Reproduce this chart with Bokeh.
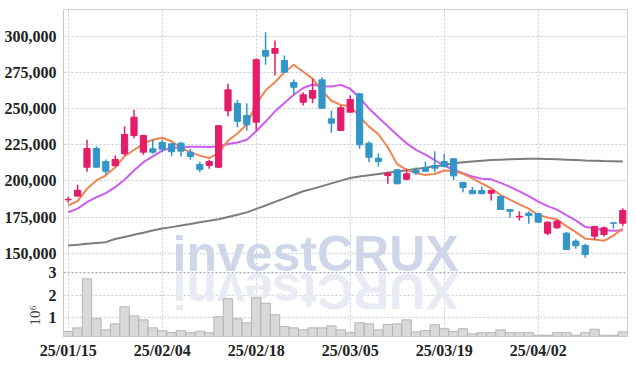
import math
from bokeh.plotting import figure
from bokeh.models import Range1d, FixedTicker, Label, Span, NumeralTickFormatter, ColumnDataSource, AllLabels
from bokeh.embed import file_html
from bokeh.resources import INLINE

# ---------------- data ----------------
dates = ["25/01/15", "25/01/16", "25/01/17", "25/01/20", "25/01/21", "25/01/22", "25/01/23", "25/01/24", "25/01/31",
         "25/02/03", "25/02/04", "25/02/05", "25/02/06", "25/02/07", "25/02/10", "25/02/11", "25/02/12", "25/02/13",
         "25/02/14", "25/02/17", "25/02/18", "25/02/19", "25/02/20", "25/02/21", "25/02/24", "25/02/25", "25/02/26",
         "25/02/27", "25/02/28", "25/03/04", "25/03/05", "25/03/06", "25/03/07", "25/03/10", "25/03/11", "25/03/12",
         "25/03/13", "25/03/14", "25/03/17", "25/03/18", "25/03/19", "25/03/20", "25/03/21", "25/03/24", "25/03/25",
         "25/03/26", "25/03/27", "25/03/28", "25/03/31", "25/04/01", "25/04/02", "25/04/03", "25/04/04", "25/04/07",
         "25/04/08", "25/04/09", "25/04/10", "25/04/11", "25/04/14", "25/04/15"]

opens = [186900, 189500, 209500, 222400, 213400, 210500, 218800, 231400, 219900, 222200,
         226600, 225700, 226100, 219900, 211400, 210700, 209500, 248500, 253600, 245300,
         240700, 290300, 288400, 283400, 268100, 254500, 257300, 270000, 243000, 234900,
         247600, 260300, 226100, 215700, 203700, 207700, 201200, 207200, 209100, 210700,
         213400, 215300, 198900, 193400, 193400, 191500, 189200, 180200, 175000, 177600,
         177300, 163800, 167500, 163800, 158300, 155300, 161700, 162900, 171000, 170700]
highs = [189000, 197300, 228500, 224000, 214800, 217600, 237700, 249200, 232000, 228500,
         228700, 226500, 227100, 222200, 213200, 214600, 238600, 267200, 256200, 253800,
         285000, 303000, 297200, 286800, 270200, 261400, 270700, 271800, 248800, 252200,
         259100, 261000, 227300, 219200, 206500, 208200, 208400, 209500, 213400, 220600,
         218800, 215800, 199500, 195700, 196100, 194000, 189700, 180600, 179000, 179000,
         178000, 172100, 173100, 164700, 159600, 156400, 169000, 168400, 171200, 181100]
lows = [185000, 189000, 206300, 209300, 204400, 210000, 217600, 229600, 218100, 218800,
        219900, 217100, 216900, 214600, 206000, 208400, 208800, 244800, 237200, 234900,
        234900, 280400, 273000, 275000, 259800, 252200, 253800, 250000, 233300, 234500,
        247200, 222200, 213000, 210000, 198000, 197600, 200300, 204200, 206400, 206000,
        209700, 200700, 192200, 191000, 191000, 186400, 180000, 174400, 172600, 170300,
        171000, 162400, 166900, 152300, 153000, 146800, 159200, 161500, 166800, 168600]
closes = [187300, 193500, 222400, 209500, 206700, 214800, 232100, 244100, 231400, 219900,
          222000, 220200, 220600, 216900, 207900, 213400, 238200, 263100, 241300, 238900,
          283900, 286400, 291700, 275300, 264900, 259600, 262600, 250300, 240000, 250600,
          256400, 225000, 216400, 213400, 205300, 198000, 204900, 205600, 206700, 208800,
          210000, 203500, 195400, 191100, 191100, 193400, 180200, 179000, 175500, 176000,
          171400, 171400, 172100, 152500, 155100, 149000, 168400, 167500, 170600, 179500]
volumes = [360000, 520000, 2730000, 930000, 430000, 700000, 1470000, 1060000, 880000, 520000,
           390000, 310000, 390000, 300000, 370000, 300000, 1020000, 1830000, 930000, 750000,
           1870000, 1630000, 1110000, 580000, 520000, 430000, 520000, 520000, 610000, 430000,
           300000, 750000, 700000, 430000, 670000, 700000, 880000, 340000, 400000, 660000,
           480000, 360000, 480000, 250000, 300000, 300000, 430000, 300000, 300000, 300000,
           190000, 190000, 300000, 300000, 190000, 300000, 460000, 190000, 190000, 340000]
ma5 = [183000, 186000, 194500, 200300, 203900, 209400, 217100, 221400, 225800, 228500,
       229900, 227500, 222800, 219900, 217500, 215800, 219400, 227900, 232800, 239000,
       253100, 262700, 268400, 275200, 280400, 275600, 270800, 262500, 255500, 252600,
       251900, 244400, 237600, 232300, 223300, 211600, 207600, 205400, 204100, 204800,
       207200, 206900, 204900, 201800, 198200, 194900, 190200, 187000, 183800, 180800,
       176400, 174700, 173300, 168700, 164500, 160000, 159400, 158500, 162100, 167000]
ma10 = [178300, 180800, 185300, 188700, 191500, 195700, 200800, 207200, 213000, 217000,
        221000, 223000, 223200, 223600, 223600, 223400, 224000, 225600, 226600, 228500,
        234400, 241100, 248200, 254000, 259700, 264300, 266800, 265500, 265400, 266500,
        263800, 257600, 250100, 243900, 237900, 231800, 226000, 221500, 218200, 214300,
        210500, 207800, 205300, 203000, 201500, 201100, 198600, 195900, 192800, 189500,
        185700, 182500, 180100, 176300, 172700, 168200, 167000, 165900, 165400, 165800]
ma_long = [155300, 155800, 156400, 157000, 157600, 159800, 161200, 162700, 164100, 165600,
           167000, 168000, 169100, 170200, 171300, 172400, 173400, 175000, 176600, 178200,
           180600, 183000, 185500, 187900, 190400, 192800, 194500, 196400, 198300, 200200,
           202000, 203000, 203900, 204800, 205600, 206500, 207400, 208300, 209200, 210100,
           211000, 212200, 212900, 213500, 214000, 214400, 214700, 215000, 215200, 215300,
           215300, 215200, 215000, 214700, 214400, 214100, 213900, 213700, 213600, 213500]

price_ticks = [150000, 175000, 200000, 225000, 250000, 275000, 300000]
volume_ticks = [1000000, 2000000, 3000000]
volume_tick_labels = ["1", "2", "3"]
volume_unit = "10⁶"
date_tick_step = 10

# ---------------- style ----------------
UP, DOWN = "#e41c69", "#3296c8"
C_MA5, C_MA10, C_LONG = "#f08450", "#cc5cf0", "#7c7c7c"
GRID = "#c3c9df"
LABEL_FONT = "Liberation Sans Narrow"

PRICE_LO, PRICE_HI = 92250, 318700
VOL_LO, VOL_HI = 131000, 14860000
FRAME_W, FRAME_H = 564, 327

n = len(dates)
xs = list(range(n))
src = ColumnDataSource(dict(
    x=xs, o=opens, h=highs, l=lows, c=closes,
    top=[max(a, b) for a, b in zip(opens, closes)],
    bot=[min(a, b) for a, b in zip(opens, closes)],
    col=[UP if c >= o else DOWN for o, c in zip(opens, closes)],
    v=volumes,
))

p = figure(width=634, height=362, output_backend="svg", toolbar_location=None,
           x_range=Range1d(-0.5, n - 0.5), y_range=Range1d(PRICE_LO, PRICE_HI),
           min_border_left=63, min_border_right=7, min_border_top=9, min_border_bottom=26,
           background_fill_color="white", border_fill_color="white",
           outline_line_color="#cfcfcf")
p.extra_y_ranges = {"vol": Range1d(VOL_LO, VOL_HI)}

# pixel -> data helpers for the decorative watermark
bar_px = FRAME_W / n
price_per_px = (PRICE_HI - PRICE_LO) / FRAME_H

# watermark (text + faint upside-down reflection), anchored at text centre
wm_text = "investCRUX"
wm_size = 50
wm_left_px = 109                     # from frame left
wm_mid_px, refl_mid_px = 244.7, 281.3  # text-box centres, from frame top
wm_x = -0.5 + wm_left_px / bar_px
adv = {"i": 0.278, "n": 0.611, "v": 0.556, "e": 0.556, "s": 0.556, "t": 0.333,
       "C": 0.722, "R": 0.722, "U": 0.722, "X": 0.667}
p.add_layout(Label(x=wm_x, y=PRICE_HI - wm_mid_px * price_per_px, text=wm_text,
                   text_font="Liberation Sans", text_font_style="bold", text_font_size=f"{wm_size}px",
                   text_color="#d0d6ea", text_align="left", text_baseline="middle", level="underlay"))
cx = 0.0
for ch in wm_text:
    w = adv[ch] * wm_size
    p.add_layout(Label(x=wm_x + (cx + w / 2) / bar_px, y=PRICE_HI - refl_mid_px * price_per_px, text=ch,
                       angle=math.pi, text_font="Liberation Sans", text_font_style="bold",
                       text_font_size=f"{wm_size}px", text_color="#e8eaf4",
                       text_align="center", text_baseline="middle", level="underlay"))
    cx += w

# volume
p.vbar(x="x", top="v", bottom=0, width=1.0, source=src, y_range_name="vol",
       fill_color="#d9d9d9", line_color="#b4b4b4", line_width=1)
p.add_layout(Span(location=3000000, dimension="width", y_range_name="vol",
                  line_color="#a0a4b0", line_dash="2 2", line_width=1))

# moving averages
p.line(xs, ma_long, line_color=C_LONG, line_width=2)
p.line(xs, ma10, line_color=C_MA10, line_width=2)
p.line(xs, ma5, line_color=C_MA5, line_width=2)

# candles
p.segment(x0="x", y0="h", x1="x", y1="l", line_color="col", line_width=1.5, source=src)
p.vbar(x="x", top="top", bottom="bot", width=0.66, fill_color="col", line_color="col", line_width=1, source=src)

# axes: one left axis carries price ticks and (mapped) volume ticks
vol_pos = [round(PRICE_LO + (v - VOL_LO) / (VOL_HI - VOL_LO) * (PRICE_HI - PRICE_LO)) for v in volume_ticks]
yax = p.yaxis[0]
yax.ticker = FixedTicker(ticks=price_ticks + vol_pos)
yax.formatter = NumeralTickFormatter(format="0,0")
yax.major_label_overrides = {pos: lab for pos, lab in zip(vol_pos, volume_tick_labels)}
yax.major_label_policy = AllLabels()
date_ticks = list(range(0, n, date_tick_step))
p.xaxis.ticker = FixedTicker(ticks=date_ticks)
p.xaxis.major_label_overrides = {i: dates[i] for i in date_ticks}

for ax in p.axis:
    ax.major_tick_line_color = None
    ax.minor_tick_line_color = None
    ax.major_tick_out = 0
    ax.major_tick_in = 0
    ax.axis_line_color = "#c8c8c8"
    ax.major_label_text_font = LABEL_FONT
    ax.major_label_text_font_size = "16px"
    ax.major_label_text_font_style = "bold"
    ax.major_label_text_color = "#222222"
yax.major_label_standoff = 7
p.xaxis.major_label_standoff = 5

# volume unit as the (centred) axis label; trailing em-spaces push the glyphs
# down beside the volume ticks (kept clear of the "2" tick label)
yax.axis_label = volume_unit + "\u2003" * 19
yax.axis_label_standoff = -41
yax.axis_label_text_font = LABEL_FONT
yax.axis_label_text_font_size = "15px"
yax.axis_label_text_font_style = "normal"
yax.axis_label_text_color = "#444444"

for g in (p.xgrid, p.ygrid):
    g.grid_line_color = GRID
    g.grid_line_dash = "2 2"
    g.grid_line_width = 1

open("out.html", "w").write(file_html(p, INLINE))
